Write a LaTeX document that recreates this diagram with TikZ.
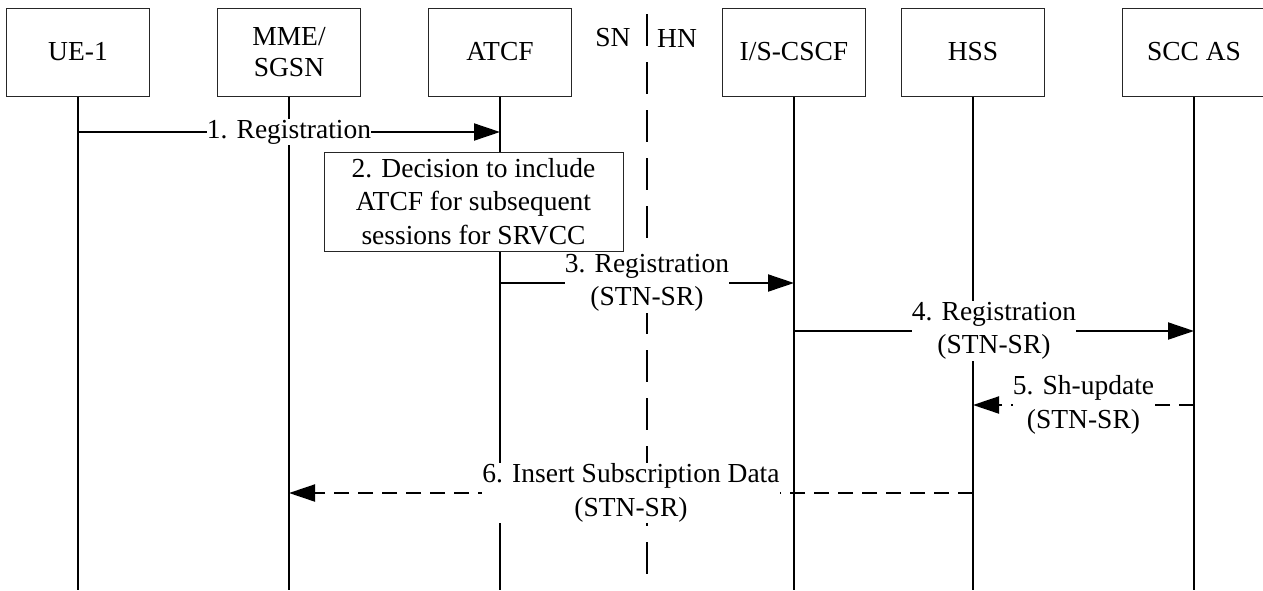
\documentclass[tikz,border=0pt]{standalone}
\usepackage{fontspec}
\setmainfont{Liberation Serif}
\usetikzlibrary{arrows.meta}
\begin{document}
\begin{tikzpicture}[x=1pt,y=-1pt,
  every node/.style={font=\fontsize{27.5}{33.5}\selectfont},
  entity/.style={draw=black!85, line width=1pt, minimum width=143pt, minimum height=88pt, align=center, inner sep=0pt},
  life/.style={line width=2pt},
  msg/.style={line width=2pt, -{Triangle[length=26pt,width=17pt]}},
  reply/.style={msg, dash pattern=on 15pt off 9pt},
  lbl/.style={fill=white, align=center, inner xsep=0pt, inner ysep=1pt},
  note/.style={draw=black!85, fill=white, line width=1pt, minimum width=299pt, minimum height=99pt, align=center, inner sep=0pt},
  divider/.style={line width=2pt, dash pattern=on 32pt off 16pt}]
\useasboundingbox (0,0) rectangle (1263,590);
% entities
\node[entity] (ue)   at (78,52)   {UE-1};
\node[entity] (mme)  at (289,52)  {MME/\\[-3pt]SGSN};
\node[entity] (atcf) at (500,52)  {ATCF};
\node[entity] (cscf) at (794,52)  {I/S-CSCF};
\node[entity] (hss)  at (973,52)  {HSS};
\node[entity] (scc)  at (1194,52) {SCC AS};
% lifelines
\coordinate (bot) at (0,590);
\foreach \e in {ue,mme,atcf,cscf,hss,scc}
  \draw[life] (\e.south) -- (\e.south |- bot);
% SN / HN divider
\node (sn) at (613,38) {SN};
\node (hn) at (677,38) {HN};
\coordinate (divtop) at (647,14);
\draw[divider] (divtop) -- (divtop |- bot);
% messages
\coordinate (y1) at (0,132);
\coordinate (y3) at (0,283);
\coordinate (y4) at (0,331);
\coordinate (y5) at (0,405);
\coordinate (y6) at (0,493);
\draw[msg] (ue |- y1) -- (atcf |- y1) node[lbl, midway] (l1) {1. Registration};
\node[note] (dec) at (473.5,201.5) {2. Decision to include\\ATCF for subsequent\\sessions for SRVCC};
\draw[msg] (atcf |- y3) -- (cscf |- y3) node[lbl, midway] (l3) {3. Registration\\(STN-SR)};
\draw[msg] (cscf |- y4) -- (scc |- y4) node[lbl, midway] (l4) {4. Registration\\(STN-SR)};
\draw[reply] (scc |- y5) -- (hss |- y5) node[lbl, midway] (l5) {5. Sh-update\\(STN-SR)};
\draw[reply] (hss |- y6) -- (mme |- y6) node[lbl, midway] (l6) {6. Insert Subscription Data\\(STN-SR)};
\end{tikzpicture}
\end{document}
